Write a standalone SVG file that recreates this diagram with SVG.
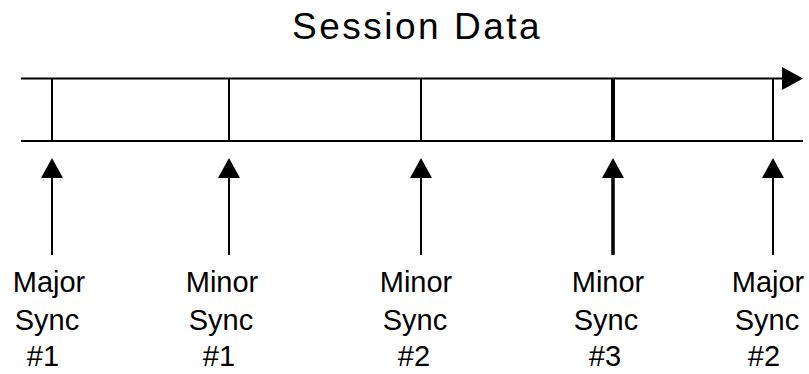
<svg xmlns="http://www.w3.org/2000/svg" xmlns:xlink="http://www.w3.org/1999/xlink" width="809" height="374" viewBox="0 0 809 374">
  <style>
    .line { stroke: #000; stroke-width: 2; fill: none; }
    .bold { stroke-width: 4; }
    .head { fill: #000; }
    .title { font-family: "Liberation Sans", Arial, sans-serif; font-size: 37px; letter-spacing: 2.5px; fill: #000; }
    .lbl { font-family: "Liberation Sans", Arial, sans-serif; font-size: 29px; fill: #000; text-anchor: middle; }
  </style>
  <defs>
    <path id="up-head" d="M0,0 L11,20 L-11,20 Z"/>
  </defs>
  <rect width="809" height="374" fill="#fff"/>

  <text class="title" x="292" y="39">Session Data</text>

  <!-- timeline band with sync dividers -->
  <g id="timeline">
    <line class="line" x1="21" y1="78.5" x2="784" y2="78.5"/>
    <polygon class="head" points="782,67 803,78.5 782,90"/>
    <line class="line" x1="21" y1="141" x2="803" y2="141"/>
    <line class="line" x1="52" y1="78.5" x2="52" y2="141"/>
    <line class="line" x1="229" y1="78.5" x2="229" y2="141"/>
    <line class="line" x1="421" y1="78.5" x2="421" y2="141"/>
    <line class="line bold" x1="613" y1="78.5" x2="613" y2="141"/>
    <line class="line" x1="773" y1="78.5" x2="773" y2="141"/>
  </g>

  <!-- pointers from each label up to its divider -->
  <g id="connectors">
    <line class="line" x1="52" y1="175" x2="52" y2="255"/>
    <use class="head" xlink:href="#up-head" x="52" y="158"/>
    <line class="line" x1="229" y1="175" x2="229" y2="255"/>
    <use class="head" xlink:href="#up-head" x="229" y="158"/>
    <line class="line" x1="421" y1="175" x2="421" y2="255"/>
    <use class="head" xlink:href="#up-head" x="421" y="158"/>
    <line class="line" x1="613" y1="175" x2="613" y2="255" style="stroke-width:3.5"/>
    <use class="head" xlink:href="#up-head" x="613" y="158"/>
    <line class="line" x1="773" y1="175" x2="773" y2="255"/>
    <use class="head" xlink:href="#up-head" x="773" y="158"/>
  </g>

  <g id="major-sync-1">
    <text class="lbl" x="49" y="292">Major</text>
    <text class="lbl" x="47" y="330">Sync</text>
    <text class="lbl" x="43" y="366">#1</text>
  </g>
  <g id="minor-sync-1">
    <text class="lbl" x="222" y="292">Minor</text>
    <text class="lbl" x="221" y="330">Sync</text>
    <text class="lbl" x="219" y="366">#1</text>
  </g>
  <g id="minor-sync-2">
    <text class="lbl" x="416" y="292">Minor</text>
    <text class="lbl" x="415" y="330">Sync</text>
    <text class="lbl" x="414" y="366">#2</text>
  </g>
  <g id="minor-sync-3">
    <text class="lbl" x="608" y="292">Minor</text>
    <text class="lbl" x="606" y="330">Sync</text>
    <text class="lbl" x="605" y="366">#3</text>
  </g>
  <g id="major-sync-2">
    <text class="lbl" x="768" y="292">Major</text>
    <text class="lbl" x="767" y="330">Sync</text>
    <text class="lbl" x="764" y="366">#2</text>
  </g>
</svg>
